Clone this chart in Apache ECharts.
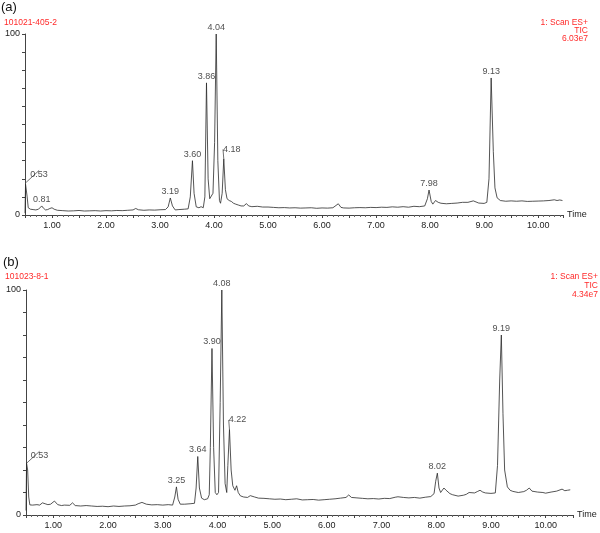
<!DOCTYPE html>
<html>
<head>
<meta charset="utf-8">
<script src="https://cdn.jsdelivr.net/npm/echarts@6/dist/echarts.min.js"></script>
<style>html,body{margin:0;padding:0;background:#fff}#c{width:600px;height:533px}</style>
</head>
<body>
<div id="c"></div>
<script>
// Panel (a) retention times (min) and relative intensities (%)
var timeA = [0.50,0.51,0.52,0.54,0.56,0.60,0.65,0.70,0.75,0.78,0.81,0.84,0.88,0.92,0.96,1.00,1.04,1.10,1.20,1.30,1.40,1.50,1.60,1.70,1.80,1.90,2.00,2.10,2.20,2.30,2.40,2.50,2.55,2.60,2.70,2.80,2.90,3.00,3.10,3.15,3.19,3.23,3.28,3.35,3.45,3.52,3.56,3.60,3.63,3.67,3.72,3.76,3.80,3.83,3.86,3.89,3.92,3.95,3.98,4.01,4.04,4.07,4.10,4.12,4.15,4.18,4.21,4.24,4.28,4.32,4.36,4.40,4.45,4.50,4.55,4.60,4.64,4.70,4.80,4.90,5.00,5.10,5.20,5.30,5.40,5.50,5.60,5.70,5.80,5.90,6.00,6.10,6.20,6.30,6.35,6.40,6.50,6.60,6.70,6.80,6.90,7.00,7.10,7.20,7.30,7.40,7.50,7.60,7.70,7.80,7.90,7.95,7.98,8.02,8.05,8.10,8.15,8.20,8.30,8.40,8.50,8.52,8.60,8.70,8.80,8.85,8.90,9.00,9.05,9.09,9.13,9.17,9.20,9.24,9.30,9.40,9.50,9.60,9.70,9.80,9.90,10.00,10.10,10.20,10.30,10.35,10.40,10.45];
var valA  = [1,17,18,10,4,3.2,3.0,2.8,3.2,4.2,5.0,3.8,2.8,3.0,3.6,4.0,3.2,2.6,2.4,2.2,2.3,2.5,2.2,2.3,2.4,2.2,2.4,2.3,2.5,2.4,2.6,2.8,3.6,2.9,2.6,2.8,2.7,2.9,3.0,4.5,9.4,5.0,2.8,3.0,3.2,3.4,10,30,12,4.5,4.0,4.6,4.0,10,73,20,9,8,12,40,100,30,8,6.5,12,31,14,9,8,7.5,6.5,6.0,5.5,5.0,5.0,6.3,5.0,4.6,4.8,4.4,4.4,4.2,4.0,4.1,3.9,4.0,3.8,3.9,4.0,3.7,3.9,3.8,4.0,6.2,4.2,3.9,3.8,4.0,4.1,4.0,4.2,4.1,4.3,4.2,4.5,4.3,4.6,4.3,4.8,4.6,5.0,9,13.8,7.5,6.0,8.0,7.0,6.5,6.2,6.4,6.6,7.4,7.0,7.0,7.8,7.2,6.6,6.4,7.0,20,75.7,35,15,9.5,8.0,7.6,7.8,7.6,7.8,7.5,7.6,7.7,7.8,8.0,8.4,8.0,8.3,8.0];
var peaksA = [[0.52,18,'0.53'],[0.81,5.0,'0.81'],[3.19,9.4,'3.19'],[3.60,30,'3.60'],[3.86,73,'3.86'],[4.04,100,'4.04'],[4.18,31,'4.18'],[7.98,13.8,'7.98'],[9.13,75.7,'9.13']];

// Panel (b)
var timeB = [0.50,0.51,0.53,0.55,0.57,0.62,0.70,0.75,0.80,0.85,0.90,0.95,1.02,1.08,1.15,1.20,1.30,1.35,1.40,1.50,1.60,1.70,1.80,1.90,2.00,2.10,2.20,2.30,2.40,2.50,2.55,2.62,2.70,2.80,2.90,3.00,3.10,3.18,3.22,3.25,3.28,3.32,3.40,3.50,3.58,3.61,3.64,3.67,3.71,3.76,3.82,3.85,3.87,3.90,3.93,3.96,3.99,4.02,4.05,4.08,4.11,4.14,4.17,4.19,4.22,4.25,4.28,4.30,4.32,4.35,4.38,4.42,4.48,4.55,4.60,4.63,4.68,4.75,4.85,4.95,5.05,5.15,5.25,5.35,5.45,5.55,5.65,5.75,5.85,5.95,6.05,6.15,6.25,6.35,6.40,6.45,6.55,6.65,6.75,6.85,6.95,7.05,7.15,7.25,7.30,7.40,7.50,7.60,7.70,7.80,7.90,7.96,7.99,8.02,8.05,8.08,8.10,8.14,8.18,8.25,8.30,8.40,8.50,8.55,8.60,8.70,8.75,8.80,8.85,8.90,9.00,9.08,9.12,9.16,9.19,9.22,9.25,9.30,9.35,9.40,9.50,9.60,9.65,9.70,9.75,9.85,9.95,10.00,10.10,10.20,10.30,10.35,10.40,10.45];
var valB  = [2,23,20,8,4.5,4.4,4.6,4.4,5.4,5.0,4.6,4.8,6.2,4.6,4.2,4.4,4.3,5.4,4.2,4.0,4.2,4.0,3.8,3.9,3.7,4.0,3.8,4.0,4.1,4.4,5.0,5.6,4.8,4.5,4.6,4.4,4.6,4.4,8,12.5,7,4.8,4.8,5.0,5.2,12,26,12,7.5,6.8,7.2,9,30,74,30,10,9.0,10,50,100,40,14,10,22,38,20,13,12.5,11,13,10,8.5,8.0,7.8,8.6,9.3,8,7.5,7.4,7.2,7.0,7.1,6.8,7.0,7.2,6.7,6.8,6.9,6.6,6.8,7.0,7.2,7.5,7.8,8.9,7.8,7.6,7.4,7.2,7.3,7.1,7.4,7.3,7.9,8.1,7.8,7.6,7.8,7.5,7.9,8.2,9.5,15,18.6,12,10,10.5,12,11,9.5,9.0,8.4,8.8,9.2,10,9.8,10.4,11,10.2,9.8,9.6,9.8,22,60,80,45,20,12.5,11,10.5,10,10.4,11,12,10.6,10.2,10.0,9.7,10.2,10.6,11.5,10.8,11.0,11.2,11.5];
var peaksB = [[0.51,23,'0.53'],[3.25,12.5,'3.25'],[3.64,26,'3.64'],[3.90,74,'3.90'],[4.08,100,'4.08'],[4.22,38,'4.22'],[8.02,18.6,'8.02'],[9.19,80,'9.19']];

var xTicks = [1,2,3,4,5,6,7,8,9,10];
var yTicks = [0,100];

function zip(t, v){ return t.map(function(x,i){ return [x, v[i]]; }); }

var shifted = {'0.53':[13,-1],'4.18':[8,-3],'4.22':[8,-3]};

var FONT = 'Liberation Sans, Arial, Helvetica, sans-serif';
var chart = echarts.init(document.getElementById('c'), null, {renderer:'canvas'});

function xAxis(gi, max){
  return {
    type:'value', gridIndex:gi, min:0.5, max:max, interval:0.5,
    name:'Time', nameLocation:'end', nameGap:4,
    nameTextStyle:{fontSize:9, color:'#222', fontFamily:FONT, verticalAlign:'middle'},
    axisLine:{show:true, lineStyle:{color:'#444', width:1}},
    axisTick:{show:true, inside:false, length:3, lineStyle:{color:'#444'}},
    minorTick:{show:true, splitNumber:5, length:2, lineStyle:{color:'#666'}},
    splitLine:{show:false}, minorSplitLine:{show:false},
    axisLabel:{fontSize:9, color:'#222', fontFamily:FONT, margin:6,
      showMinLabel:false, showMaxLabel:false, hideOverlap:false,
      formatter:function(v){ return xTicks.indexOf(Math.round(v*100)/100) >= 0 ? v.toFixed(2) : ''; }}
  };
}
function yAxis(gi){
  return {
    type:'value', gridIndex:gi, min:0, max:100, interval:10,
    name:'%', nameLocation:'middle', nameRotate:90, nameGap:10,
    nameTextStyle:{fontSize:8, color:'#222', fontFamily:FONT},
    axisLine:{show:true, lineStyle:{color:'#444', width:1}},
    axisTick:{show:true, inside:false, length:3, lineStyle:{color:'#444'}},
    splitLine:{show:false},
    axisLabel:{fontSize:9, color:'#222', fontFamily:FONT, margin:5,
      formatter:function(v){ return yTicks.indexOf(v) >= 0 ? String(v) : ''; }}
  };
}
function trace(gi, t, v){
  return {type:'line', xAxisIndex:gi, yAxisIndex:gi, data:zip(t,v), showSymbol:false, symbol:'none',
    lineStyle:{color:'#2a2a2a', width:0.8}, animation:false, silent:true};
}
function peaks(gi, p){
  return {type:'scatter', xAxisIndex:gi, yAxisIndex:gi, symbolSize:0, animation:false, silent:true,
    data:p.map(function(d){
      var item = {value:[d[0],d[1]], name:d[2]};
      if (shifted[d[2]]) item.labelLine = {show:true};
      return item;
    }),
    label:{show:true, position:'top', distance:2, formatter:'{b}', fontSize:9, color:'#222', fontFamily:FONT},
    labelLine:{show:false, lineStyle:{color:'#333', width:0.7}},
    labelLayout:function(params){
      var s = shifted[params.text];
      return s ? {dx:s[0], dy:s[1]} : {};
    }
  };
}

chart.setOption({
  animation:false,
  backgroundColor:'#fff',
  grid:[
    {left:25, top:34, width:538, height:181, containLabel:false, outerBoundsMode:'none'},
    {left:26, top:290, width:547, height:225, containLabel:false, outerBoundsMode:'none'}
  ],
  xAxis:[xAxis(0, 10.46), xAxis(1, 10.5)],
  yAxis:[yAxis(0), yAxis(1)],
  series:[trace(0,timeA,valA), peaks(0,peaksA), trace(1,timeB,valB), peaks(1,peaksB)],
  graphic:[
    {type:'text', left:1, top:1, style:{text:'(a)', fontSize:13, fill:'#111', fontFamily:FONT}},
    {type:'text', left:4, top:18, style:{text:'101021-405-2', fontSize:8.5, fill:'#ff2a2a', fontFamily:FONT}},
    {type:'text', right:12, top:18, style:{text:'1: Scan ES+', fontSize:8.5, fill:'#ff2a2a', fontFamily:FONT}},
    {type:'text', right:12, top:26, style:{text:'TIC', fontSize:8.5, fill:'#ff2a2a', fontFamily:FONT}},
    {type:'text', right:12, top:34, style:{text:'6.03e7', fontSize:8.5, fill:'#ff2a2a', fontFamily:FONT}},
    {type:'text', left:3, top:256, style:{text:'(b)', fontSize:13, fill:'#111', fontFamily:FONT}},
    {type:'text', left:5, top:272, style:{text:'101023-8-1', fontSize:8.5, fill:'#ff2a2a', fontFamily:FONT}},
    {type:'text', right:2, top:272, style:{text:'1: Scan ES+', fontSize:8.5, fill:'#ff2a2a', fontFamily:FONT}},
    {type:'text', right:2, top:281, style:{text:'TIC', fontSize:8.5, fill:'#ff2a2a', fontFamily:FONT}},
    {type:'text', right:2, top:290, style:{text:'4.34e7', fontSize:8.5, fill:'#ff2a2a', fontFamily:FONT}}
  ]
});
</script>
</body>
</html>
